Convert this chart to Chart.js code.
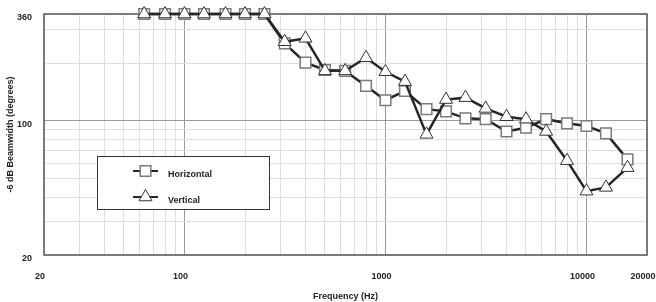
<!DOCTYPE html>
<html>
<head>
<meta charset="utf-8">
<script src="https://cdn.jsdelivr.net/npm/chart.js@4.4.0/dist/chart.umd.min.js"></script>
<style>
    html, body { margin: 0; padding: 0; background: #fff; }
    #wrap { width: 656px; height: 302px; position: relative; }
</style>
</head>
<body>
<div id="wrap"><canvas id="chart"></canvas></div>
<script>
// Frecuencias de tercio de octava (Hz)
const frequencies = [63, 80, 100, 125, 160, 200, 250, 315, 400, 500, 630, 800, 1000, 1250, 1600, 2000, 2500, 3150, 4000, 5000, 6300, 8000, 10000, 12500, 16000];
const horizontal = [360, 360, 360, 360, 360, 360, 360, 253, 201, 184, 182, 152, 128, 143, 115, 112, 103, 102, 88, 92, 102, 97, 94, 86, 63];
const vertical = [360, 360, 360, 360, 360, 360, 360, 258, 269, 182, 182, 213, 180, 160, 85, 129, 132, 116, 105, 102, 88, 62, 43, 45, 57];

const xGrid = [20, 30, 40, 50, 60, 70, 80, 90, 100, 200, 300, 400, 500, 600, 700, 800, 900, 1000, 2000, 3000, 4000, 5000, 6000, 7000, 8000, 9000, 10000, 20000];
const xLabels = [20, 100, 1000, 10000, 20000];
const xMajor = [100, 1000, 10000];
const yGrid = [20, 30, 40, 50, 60, 70, 80, 90, 100, 200, 300, 360];
const yLabels = [20, 100, 360];
const yMajor = [100];

const fontFamily = '"Liberation Sans", Arial, sans-serif';
const lineColor = '#262626';

const toPoints = (vals) => frequencies.map((f, i) => ({ x: f, y: vals[i] }));

// Recuadro del área y leyenda dibujada dentro del gráfico
const framePlugin = {
    id: 'frame',
    beforeDatasetsDraw(chart) {
        const { ctx, chartArea: a } = chart;
        ctx.save();
        ctx.strokeStyle = '#555';
        ctx.lineWidth = 1.5;
        ctx.strokeRect(a.left, a.top, a.right - a.left, a.bottom - a.top);
        ctx.restore();
    },
    afterDatasetsDraw(chart) {
        const { ctx } = chart;
        ctx.save();
        // leyenda
        const bx = 97.5, by = 156.5, bw = 172, bh = 53;
        ctx.fillStyle = '#fff';
        ctx.fillRect(bx, by, bw, bh);
        ctx.strokeStyle = '#333';
        ctx.lineWidth = 1;
        ctx.strokeRect(bx, by, bw, bh);

        const items = [
            { label: 'Horizontal', ds: chart.data.datasets[0], y: 171 },
            { label: 'Vertical', ds: chart.data.datasets[1], y: 197 }
        ];
        items.forEach(it => {
            ctx.strokeStyle = lineColor;
            ctx.lineWidth = 2;
            ctx.beginPath();
            ctx.moveTo(133, it.y);
            ctx.lineTo(158, it.y);
            ctx.stroke();
            ctx.fillStyle = '#fff';
            ctx.strokeStyle = it.ds.pointBorderColor;
            ctx.lineWidth = it.ds.pointBorderWidth;
            Chart.helpers.drawPoint(ctx, { pointStyle: it.ds.pointStyle, radius: it.ds.pointRadius, rotation: 0, borderWidth: it.ds.pointBorderWidth }, 145.5, it.y);
            ctx.fillStyle = '#222';
            ctx.font = 'bold 9px ' + fontFamily;
            ctx.textBaseline = 'middle';
            ctx.fillText(it.label, 168, it.y + 4);
        });
        ctx.restore();
    }
};

new Chart(document.getElementById('chart'), {
    type: 'line',
    data: {
        datasets: [
            {
                label: 'Horizontal',
                data: toPoints(horizontal),
                order: 1,
                borderColor: lineColor,
                borderWidth: 2.5,
                pointStyle: 'rect',
                pointRadius: 7.5,
                pointBackgroundColor: '#fff',
                pointBorderColor: '#7a7a7a',
                pointBorderWidth: 1.5,
                tension: 0,
                clip: false
            },
            {
                label: 'Vertical',
                data: toPoints(vertical),
                order: 0,
                borderColor: lineColor,
                borderWidth: 2.5,
                pointStyle: 'triangle',
                pointRadius: 7.5,
                pointBackgroundColor: '#fff',
                pointBorderColor: '#333',
                pointBorderWidth: 1,
                tension: 0,
                clip: false
            }
        ]
    },
    options: {
        responsive: true,
        maintainAspectRatio: false,
        animation: false,
        layout: { padding: { top: 14, right: 9, left: 0, bottom: 0 } },
        plugins: {
            legend: { display: false },
            tooltip: { enabled: false }
        },
        scales: {
            x: {
                type: 'logarithmic',
                min: 20,
                max: 20000,
                afterBuildTicks: (scale) => { scale.ticks = xGrid.map(v => ({ value: v })); },
                afterFit: (scale) => {
                    scale.height = 47;
                    scale.paddingLeft = 0; scale.paddingRight = 0;
                },
                ticks: {
                    autoSkip: false,
                    maxRotation: 0,
                    padding: 16,
                    labelOffset: -4,
                    color: '#222',
                    font: { family: fontFamily, size: 9, weight: 'bold' },
                    callback: (v) => xLabels.includes(v) ? String(v) : ''
                },
                grid: {
                    drawTicks: false,
                    color: (c) => xMajor.includes(c.tick && c.tick.value) ? '#9a9a9a' : '#dedede',
                    lineWidth: 1
                },
                border: { display: false },
                title: {
                    display: true,
                    text: 'Frequency (Hz)',
                    color: '#222',
                    font: { family: fontFamily, size: 9, weight: 'bold' },
                    padding: { top: 0, bottom: 0 }
                }
            },
            y: {
                type: 'logarithmic',
                min: 20,
                max: 360,
                afterBuildTicks: (scale) => { scale.ticks = yGrid.map(v => ({ value: v })); },
                afterFit: (scale) => {
                    scale.width = 44;
                    scale.paddingTop = 0; scale.paddingBottom = 0;
                },
                ticks: {
                    autoSkip: false,
                    padding: 12,
                    labelOffset: 4,
                    color: '#222',
                    font: { family: fontFamily, size: 9, weight: 'bold' },
                    callback: (v) => yLabels.includes(v) ? String(v) : ''
                },
                grid: {
                    drawTicks: false,
                    color: (c) => yMajor.includes(c.tick && c.tick.value) ? '#9a9a9a' : '#dedede',
                    lineWidth: 1
                },
                border: { display: false },
                title: {
                    display: true,
                    text: '-6 dB Beamwidth (degrees)',
                    color: '#222',
                    font: { family: fontFamily, size: 9, weight: 'bold' },
                    padding: { top: 5, bottom: 0 }
                }
            }
        }
    },
    plugins: [framePlugin]
});
</script>
</body>
</html>
